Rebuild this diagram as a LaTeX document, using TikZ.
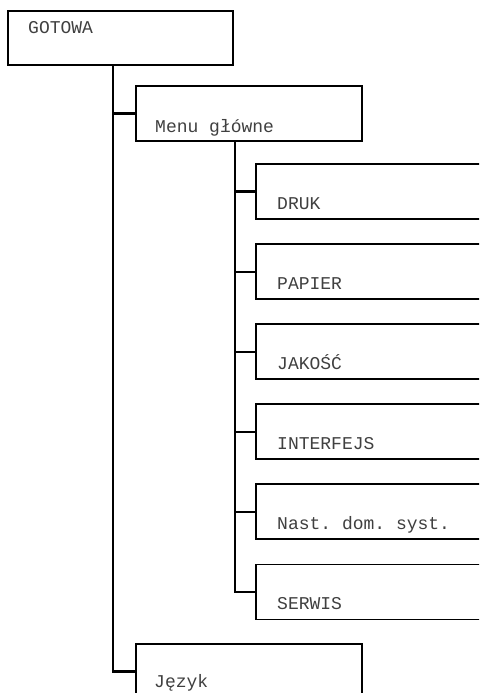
\documentclass[tikz,border=0pt]{standalone}
\usepackage{fontspec}
\setmonofont{Liberation Mono}
\usepackage{tikz}
\usetikzlibrary{positioning,calc}
\tikzset{
  menubox/.style={draw=black,line width=1.9pt,fill=white,rectangle,
    minimum width=226pt,minimum height=55pt,inner sep=0pt,anchor=north west},
  leafbox/.style={menubox,minimum width=240pt},
  lbl/.style={font=\fontsize{18}{20}\selectfont\ttfamily,text=black!75,
    anchor=base west,inner sep=0pt},
  link/.style={draw=black,line width=2.1pt},
}

\begin{document}
\begin{tikzpicture}[x=1pt,y=-1pt,node distance=23.2pt]
    \useasboundingbox (0,0) rectangle (479,693);
    \clip (0,0) rectangle (479,693);
    % boxes
    \node[menubox,minimum width=225pt,minimum height=54pt] (gotowa) at (7,10) {};
    \node[menubox] (menu) at (135,85) {};
    \node[leafbox] (druk) at (255,163) {};
    \node[leafbox,below=of druk.south west,anchor=north west] (papier) {};
    \node[leafbox,below=of papier.south west,anchor=north west] (jakosc) {};
    \node[leafbox,below=of jakosc.south west,anchor=north west] (interfejs) {};
    \node[leafbox,below=of interfejs.south west,anchor=north west] (nast) {};
    \node[leafbox,below=of nast.south west,anchor=north west] (serwis) {};
    \node[menubox] (jezyk) at (135,643) {};

    % texts
    \node[lbl] at ($(gotowa.north west)+(21,24)$) {GOTOWA};
    \node[lbl] at ($(menu.north west)+(20,47)$) {Menu główne};
    \node[lbl] at ($(druk.north west)+(22,46)$) {DRUK};
    \node[lbl] at ($(papier.north west)+(22,46)$) {PAPIER};
    \node[lbl] at ($(jakosc.north west)+(22,46)$) {JAKOŚĆ};
    \node[lbl] at ($(interfejs.north west)+(22,46)$) {INTERFEJS};
    \node[lbl] at ($(nast.north west)+(22,46)$) {Nast. dom. syst.};
    \node[lbl] at ($(serwis.north west)+(22,46)$) {SERWIS};
    \node[lbl] at ($(jezyk.north west)+(19,44)$) {Język};

    % connectors
    \coordinate (trunk1) at ($(gotowa.south west)+(106,0)$);
    \coordinate (trunk2) at ($(menu.south west)+(100,0)$);
    \draw[link] (trunk1) |- (menu.west);
    \draw[link] (trunk1) |- (jezyk.west);
    \foreach \n in {druk,papier,jakosc,interfejs,nast,serwis}
      \draw[link] (trunk2) |- (\n.west);
  \end{tikzpicture}
\end{document}
